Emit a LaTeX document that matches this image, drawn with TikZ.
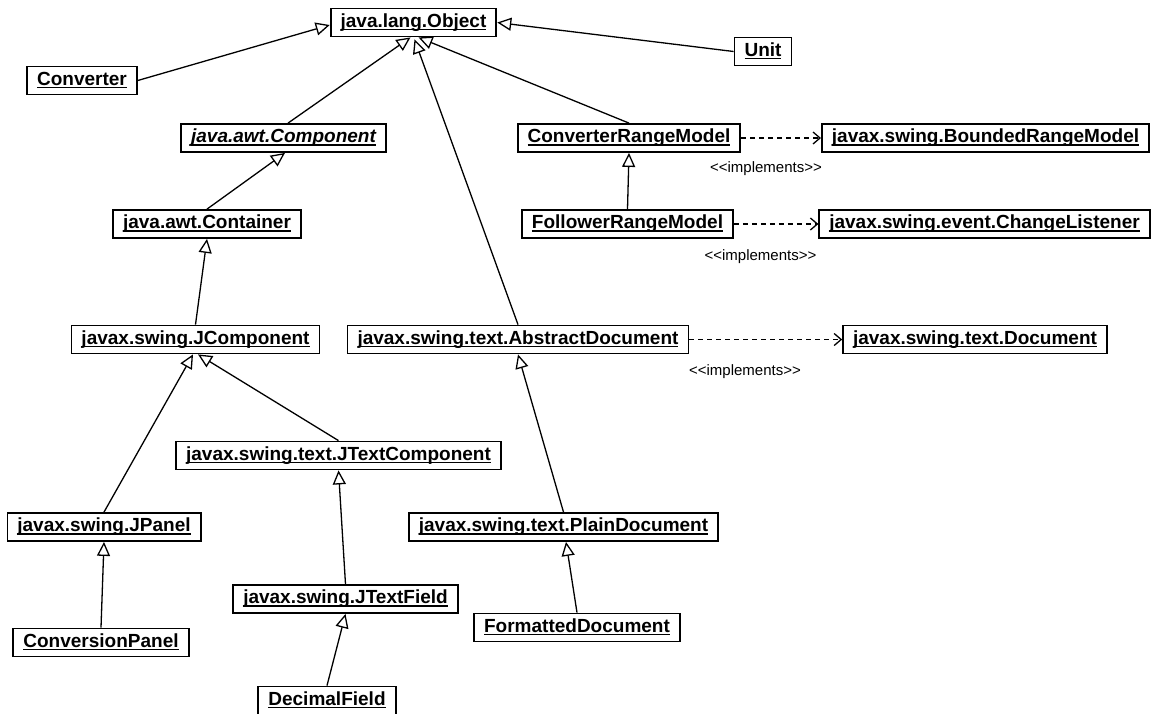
\documentclass[tikz,border=0pt]{standalone}
\usepackage{fontspec}
\setmainfont{Liberation Sans}
\usetikzlibrary{arrows.meta}
\newcommand{\subrayado}[1]{\setbox0\hbox{#1}\rlap{\rule[-3.4pt]{\wd0}{1.5pt}}\box0}
\newcommand{\implementa}{<\kern0pt<implements>\kern0pt>}

\tikzset{
  clase/.style={draw, line width=1.8pt, font=\fontsize{19}{22}\selectfont\bfseries,
    minimum height=28pt, inner xsep=10pt, inner ysep=0pt, text height=14pt, text depth=5pt},
  hereda/.style={line width=1.3pt, -{Triangle[open, length=14pt, width=13pt]}},
  implementa/.style={line width=1.3pt, dash pattern=on 5pt off 4pt,
    -{Straight Barb[length=7pt, width=12pt]}},
  etiqueta/.style={font=\fontsize{15}{18}\selectfont, inner sep=0pt}
}

\begin{document}
\begin{tikzpicture}[x=1pt, y=-1pt]
	\useasboundingbox (0,0) rectangle (1151,713);
	% Clases de arriba
	\node[clase] (obj) at (413.5,22.5) {\subrayado{java.lang.Object}};
	\node[clase] (conv) at (82,80.5) {\subrayado{Converter}};
	\node[clase] (unit) at (763,51.5) {\subrayado{Unit}};
	\node[clase] (comp) at (283.5,138) {\subrayado{\itshape java.awt.Component}};
	\node[clase] (cont) at (207,224) {\subrayado{java.awt.Container}};
	% Modelos de rango
	\node[clase] (crm) at (629,138) {\subrayado{ConverterRangeModel}};
	\node[clase] (brm) at (985.5,138) {\subrayado{javax.swing.BoundedRangeModel}};
	\node[clase] (frm) at (627.5,224) {\subrayado{FollowerRangeModel}};
	\node[clase] (cl) at (984.5,224) {\subrayado{javax.swing.event.ChangeListener}};
	% Componentes y documentos
	\node[clase] (jcomp) at (195.5,339.5) {\subrayado{javax.swing.JComponent}};
	\node[clase] (absdoc) at (518,339.5) {\subrayado{javax.swing.text.AbstractDocument}};
	\node[clase] (doc) at (975,339.5) {\subrayado{javax.swing.text.Document}};
	\node[clase] (jtc) at (338.5,455.5) {\subrayado{javax.swing.text.JTextComponent}};
	\node[clase] (jpanel) at (104,527) {\subrayado{javax.swing.JPanel}};
	\node[clase] (plain) at (563.5,527) {\subrayado{javax.swing.text.PlainDocument}};
	\node[clase] (jtf) at (345.5,599) {\subrayado{javax.swing.JTextField}};
	\node[clase] (fmt) at (577,627.5) {\subrayado{FormattedDocument}};
	\node[clase] (cpanel) at (101,642.5) {\subrayado{ConversionPanel}};
	\node[clase] (dec) at (327,700.5) {\subrayado{DecimalField}};

	% Herencia
	\draw[hereda] (conv.east) -- ([yshift=-2.5pt]obj.west);
	\draw[hereda] (unit.west) -- (obj.east);
	\draw[hereda] ([xshift=4.5pt]comp.north) -- ([xshift=-3pt]obj.south);
	\draw[hereda] (absdoc.north) -- ([xshift=1pt,yshift=-2pt]obj.south);
	\draw[hereda] (crm.north) -- ([xshift=5pt]obj.south);
	\draw[hereda] (cont.north) -- ([xshift=1.5pt]comp.south);
	\draw[hereda] (jcomp.north) -- (cont.south);
	\draw[hereda] (jpanel.north) -- ([xshift=-2.5pt]jcomp.south);
	\draw[hereda] (jtc.north) -- ([xshift=2.5pt]jcomp.south);
	\draw[hereda] (cpanel.north) -- (jpanel.south);
	\draw[hereda] (jtf.north) -- (jtc.south);
	\draw[hereda] (dec.north) -- (jtf.south);
	\draw[hereda] (plain.north) -- (absdoc.south);
	\draw[hereda] (fmt.north) -- ([xshift=2.5pt]plain.south);
	\draw[hereda] (frm.north) -- (crm.south);

	% Interfaces
	\draw[implementa] (crm.east) -- (brm.west);
	\draw[implementa] (frm.east) -- (cl.west);
	\draw[implementa] (absdoc.east) -- (doc.west);
	\node[etiqueta] (impl1) at (766,169) {\implementa};
	\node[etiqueta] (impl2) at (760.5,257) {\implementa};
	\node[etiqueta] (impl3) at (745,372) {\implementa};
\end{tikzpicture}
\end{document}
